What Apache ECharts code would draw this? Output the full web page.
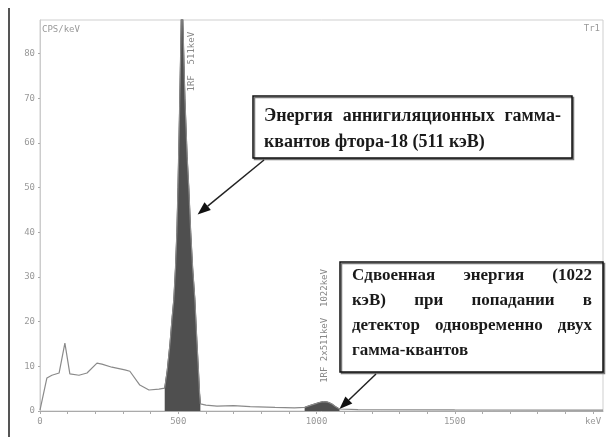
<!DOCTYPE html>
<html>
<head>
<meta charset="utf-8">
<script src="https://cdn.jsdelivr.net/npm/echarts@6/dist/echarts.min.js"></script>
<style>
  html, body { margin: 0; padding: 0; background: #fff; }
  #chart { width: 616px; height: 437px; }
</style>
</head>
<body>
<div id="chart"></div>
<script>
// спектр: [энергия keV, CPS/keV]
const baseLeft = [[0, 0.2], [25, 7.4], [43, 8.0], [69, 8.5], [90, 15.2], [108, 8.3], [141, 8.0], [170, 8.5],
  [206, 10.7], [224, 10.5], [260, 9.8], [307, 9.2], [325, 8.9], [361, 5.8], [394, 4.7], [430, 4.9]];
// пик 511 кэВ (закрашенная область)
const peak511 = [[451, 5.1], [460, 9], [470, 15], [478, 21], [484, 25], [490, 32], [495, 40], [499, 50],
  [504, 65], [508, 78], [513, 95], [518, 84], [524, 70], [532, 57], [538, 50], [545, 40], [552, 32],
  [560, 25], [567, 16], [573, 9], [577, 4], [580, 1.6]];
const baseMid = [[600, 1.3], [640, 1.1], [700, 1.2], [760, 1.0], [850, 0.8], [920, 0.7]];
// двойной пик 1022 кэВ
const peak1022 = [[957, 0.8], [975, 1.2], [995, 1.6], [1010, 1.9], [1025, 2.1], [1040, 2.0], [1055, 1.6],
  [1068, 1.0], [1083, 0.45]];
const baseRight = [[1150, 0.3], [1500, 0.25], [2000, 0.2], [2036, 0.2]];

const spectrum = [].concat(baseLeft, peak511, baseMid, peak1022, baseRight);

const xTickLabels = { 0: '0', 500: '500', 1000: '1000', 1500: '1500', 2000: 'keV' };
const yTickLabels = [0, 10, 20, 30, 40, 50, 60, 70, 80];

const box1Lines = [['Энергия', 'аннигиляционных', 'гамма-'], ['квантов фтора-18 (511 кэВ)']];
const box2Lines = [['Сдвоенная', 'энергия', '(1022'], ['кэВ)', 'при', 'попадании', 'в'],
  ['детектор', 'одновременно', 'двух'], ['гамма-квантов']];

const chart = echarts.init(document.getElementById('chart'));
const mono = '"DejaVu Sans Mono", monospace';

chart.setOption({
  animation: false,
  grid: { left: 40, top: 20, right: 13, bottom: 26, show: true, borderColor: '#cfcfcf', borderWidth: 1 },
  xAxis: {
    type: 'value', min: 0, max: 2036, interval: 100,
    axisLine: { lineStyle: { color: '#aaa' } },
    axisTick: { length: 3, lineStyle: { color: '#aaa' } },
    splitLine: { show: false },
    axisLabel: {
      fontFamily: mono, fontSize: 9, color: '#999', margin: 6, showMaxLabel: false,
      formatter: v => xTickLabels[v] || ''
    }
  },
  yAxis: {
    type: 'value', min: 0, max: 87.5, interval: 10,
    axisLine: { show: true, lineStyle: { color: '#ccc' } },
    axisTick: { show: true, length: 2, lineStyle: { color: '#aaa' } },
    splitLine: { show: false },
    axisLabel: {
      fontFamily: mono, fontSize: 9, color: '#999', margin: 5, showMaxLabel: false,
      formatter: v => yTickLabels.indexOf(v) >= 0 ? String(v) : ''
    }
  },
  series: [
    {
      type: 'line', data: peak511, symbol: 'none', z: 2,
      lineStyle: { color: '#3d3d3d', width: 1 },
      areaStyle: { color: '#4f4f4f', opacity: 1 }
    },
    {
      type: 'line', data: peak1022, symbol: 'none', z: 2,
      lineStyle: { color: '#3d3d3d', width: 1 },
      areaStyle: { color: '#4f4f4f', opacity: 1 }
    },
    {
      type: 'line', data: spectrum, symbol: 'none', z: 3,
      lineStyle: { color: '#8a8a8a', width: 1.2 }
    }
  ]
});

// выравнивание текста по ширине
const ctx = document.createElement('canvas').getContext('2d');
function textLines(lines, x0, x1, y0, step, font) {
  ctx.font = font;
  const out = [];
  lines.forEach((words, li) => {
    const y = y0 + li * step;
    const widths = words.map(w => ctx.measureText(w).width);
    const total = widths.reduce((a, b) => a + b, 0);
    const last = li === lines.length - 1 || words.length === 1;
    const gap = last ? 0 : (x1 - x0 - total) / (words.length - 1);
    let x = x0;
    words.forEach((w, i) => {
      out.push({ type: 'text', x: x, y: y, z: 20,
        style: { text: w, font: font, fill: '#1a1a1a', verticalAlign: 'middle' } });
      x += widths[i] + gap;
    });
  });
  return out;
}

function arrow(from, tip) {
  const dx = tip[0] - from[0], dy = tip[1] - from[1];
  const len = Math.sqrt(dx * dx + dy * dy), ux = dx / len, uy = dy / len;
  const hl = 13, hw = 5;
  const bx = tip[0] - ux * hl, by = tip[1] - uy * hl;
  return [
    { type: 'line', z: 20, shape: { x1: from[0], y1: from[1], x2: bx, y2: by },
      style: { stroke: '#222', lineWidth: 1.5 } },
    { type: 'polygon', z: 20, shape: { points: [tip, [bx - uy * hw, by + ux * hw], [bx + uy * hw, by - ux * hw]] },
      style: { fill: '#111' } }
  ];
}

function box(x, y, w, h) {
  return { type: 'rect', z: 19, shape: { x: x, y: y, width: w, height: h },
    style: { fill: '#fff', stroke: '#111', lineWidth: 1.5, shadowColor: '#777', shadowOffsetX: 1.5, shadowOffsetY: 1.5 } };
}

const px = p => chart.convertToPixel({ gridIndex: 0 }, p);
const tip1 = px([570, 44]);
const tip2 = px([1083, 0.45]);
const lab1 = px([548, 71.5]);
const lab2 = px([1030, 6.3]);

const elements = [
  { type: 'rect', shape: { x: 8, y: 8, width: 2, height: 429 }, style: { fill: '#555' } },
  { type: 'text', x: 42, y: 30, style: { text: 'CPS/keV', font: '9px ' + mono, fill: '#999', verticalAlign: 'middle' } },
  { type: 'text', x: 600, y: 29, style: { text: 'Tr1', font: '9px ' + mono, fill: '#999', align: 'right', verticalAlign: 'middle' } },
  { type: 'text', x: lab1[0], y: lab1[1], rotation: Math.PI / 2,
    style: { text: '1RF  511keV', font: '9px ' + mono, fill: '#888', verticalAlign: 'middle' } },
  { type: 'text', x: lab2[0], y: lab2[1], rotation: Math.PI / 2,
    style: { text: '1RF 2x511keV  1022keV', font: '9px ' + mono, fill: '#888', verticalAlign: 'middle' } },
  box(253, 96, 319, 62),
  box(340, 262, 263, 110)
].concat(
  textLines(box1Lines, 264, 561, 116, 26, 'bold 18px "Liberation Serif", serif'),
  textLines(box2Lines, 352, 592, 276, 25, 'bold 17px "Liberation Serif", serif'),
  arrow([264, 160], tip1),
  arrow([376, 374], tip2)
);

chart.setOption({ graphic: { elements: elements } });
</script>
</body>
</html>
